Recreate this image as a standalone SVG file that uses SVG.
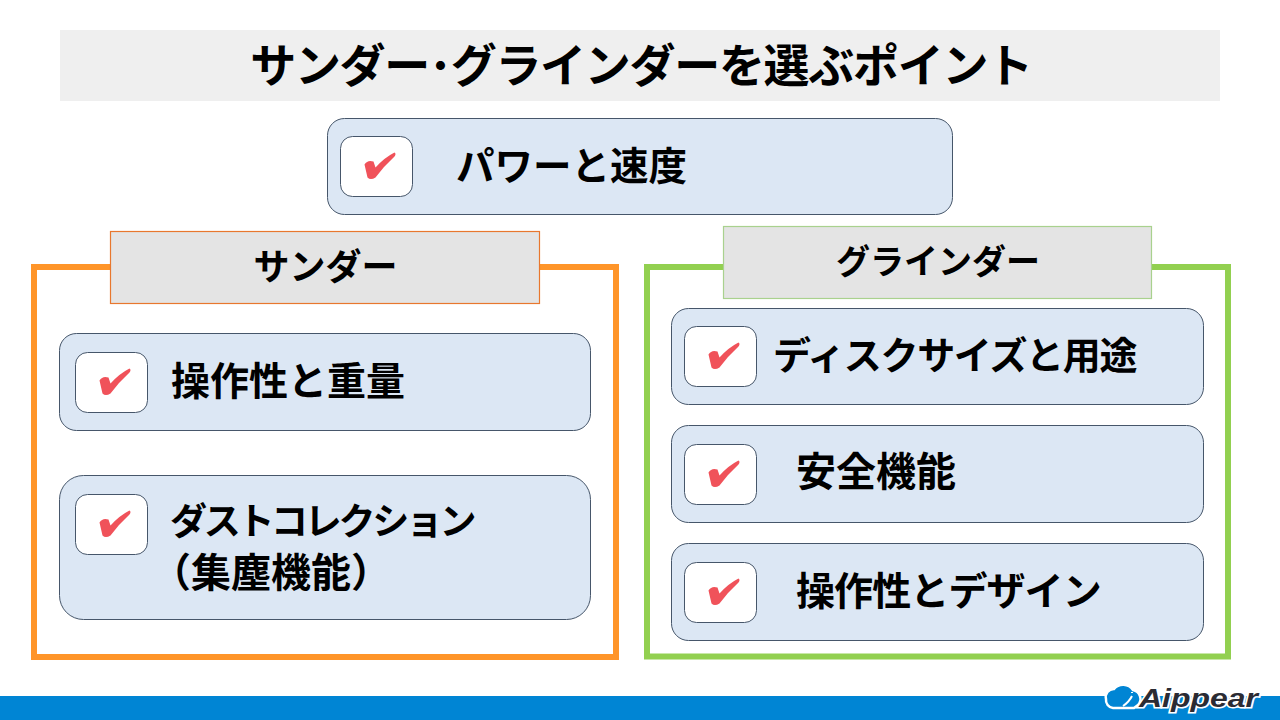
<svg xmlns="http://www.w3.org/2000/svg" width="1280" height="720" viewBox="0 0 1280 720">
<style>
text{font-family:"Noto Sans CJK JP","Noto Sans",sans-serif;font-weight:700;fill:#000}
.card{fill:#dce7f4;stroke:#46566a;stroke-width:1}
.box{fill:#fff;stroke:#46566a;stroke-width:1}
</style>
<defs>
<g id="check">
<rect class="box" x="0" y="0" width="72" height="60" rx="12"/>
<path d="M24 28 Q27 23 33 25 L35 31 Q44 21 54 16 Q56 17 54 20 Q43 30 35 41 Q30 44 27 41 Z" fill="#f0525a"/>
</g>
</defs>
<rect width="1280" height="720" fill="#fff"/>
<g id="title"><rect x="60" y="30" width="1160" height="71" fill="#efefef"/>
<text x="641" y="82" font-size="46" letter-spacing="-1.300" text-anchor="middle">サンダー･グラインダーを選ぶポイント</text></g>
<g id="power"><rect class="card" x="327.500" y="118.500" width="625" height="96" rx="17"/><use href="#check" x="340.500" y="136.500"/>
<text font-size="38.500" x="456" y="180">パワーと速度</text></g>
<g id="sander-frame"><rect x="34" y="267" width="582" height="390" fill="#fff" stroke="#ff9529" stroke-width="6"/></g>
<g id="sander-head"><rect x="110.500" y="231.500" width="429" height="72" fill="#e4e4e4" stroke="#e8772e" stroke-width="1.200"/>
<text x="325.500" y="280" font-size="36" text-anchor="middle">サンダー</text></g>
<g id="grinder-frame"><rect x="647" y="267" width="581" height="389.500" fill="#fff" stroke="#92d050" stroke-width="6"/></g>
<g id="grinder-head"><rect x="723.500" y="226.500" width="428" height="72" fill="#e4e4e4" stroke="#a9d18e" stroke-width="1.200"/>
<text x="938" y="274" font-size="34" text-anchor="middle">グラインダー</text></g>
<g id="s1"><rect class="card" x="59.500" y="333.500" width="531" height="97" rx="17"/><use href="#check" x="75.500" y="352.500"/>
<text font-size="39" x="171" y="395">操作性と重量</text></g>
<g id="s2"><rect class="card" x="59.500" y="475.500" width="531" height="144" rx="24"/><use href="#check" x="75.500" y="494.500"/>
<text font-size="37" letter-spacing="-3.300" x="170" y="535">ダストコレクション</text><text font-size="40" x="151" y="587">（集塵機能）</text></g>
<g id="g1"><rect class="card" x="671.500" y="308.500" width="532" height="96" rx="17"/><use href="#check" x="684.500" y="326.500"/>
<text font-size="38" letter-spacing="-1.300" x="773" y="369">ディスクサイズと用途</text></g>
<g id="g2"><rect class="card" x="671.500" y="425.500" width="532" height="97" rx="17"/><use href="#check" x="684.500" y="444.500"/>
<text font-size="40" x="796" y="486">安全機能</text></g>
<g id="g3"><rect class="card" x="671.500" y="543.500" width="532" height="97" rx="17"/><use href="#check" x="684.500" y="562.500"/>
<text font-size="39" letter-spacing="-0.900" x="796" y="605">操作性とデザイン</text></g>
<g id="footer"><rect x="0" y="696" width="1280" height="24" fill="#0085d4"/>
<path d="M1106 699 a8 8 0 0 1 8 -10 a12 12 0 0 1 19 1 a9 9 0 0 1 5 15 l-4 3 h-21 a8 8 0 0 1 -7 -9z" fill="#0085d4" stroke="#fff" stroke-width="2.500"/>
<path d="M1123 706 Q1129 702 1132 696 M1132 692 v1" fill="none" stroke="#fff" stroke-width="2"/>
<text x="1139" y="707" font-size="25" textLength="119" lengthAdjust="spacingAndGlyphs" style="font-family:'Liberation Sans',sans-serif;font-style:italic;fill:#2b2b33;paint-order:stroke;stroke:#fff;stroke-width:3px">Aippear</text></g>
</svg>
